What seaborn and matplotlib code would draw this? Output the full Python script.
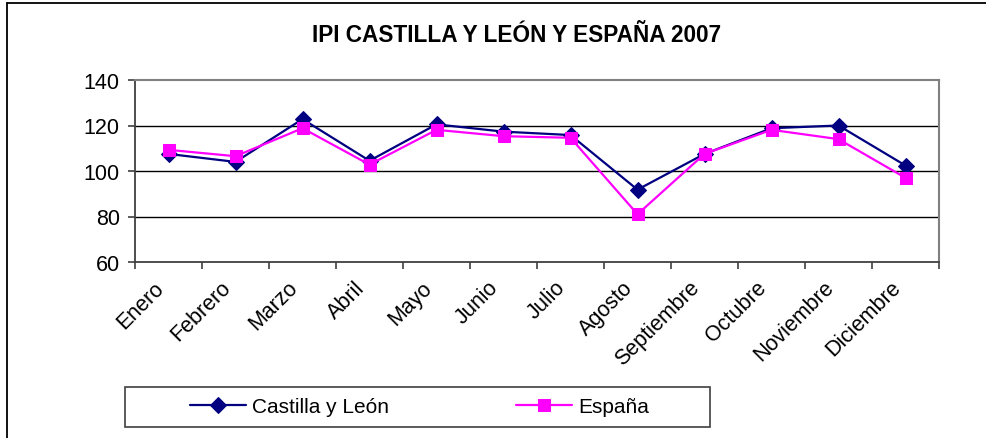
import matplotlib
matplotlib.use("Agg")
import matplotlib.pyplot as plt
import matplotlib.transforms as mtransforms
import seaborn as sns
import pandas as pd
from matplotlib.ticker import FixedLocator
from matplotlib.patches import Rectangle
from matplotlib.lines import Line2D

meses = ["Enero", "Febrero", "Marzo", "Abril", "Mayo", "Junio", "Julio",
         "Agosto", "Septiembre", "Octubre", "Noviembre", "Diciembre"]
castilla_leon = [107.5, 104.0, 122.8, 104.5, 120.5, 117.3, 115.8, 91.8, 107.5, 118.8, 120.0, 102.4]
espana = [109.3, 106.5, 118.8, 102.8, 118.1, 115.3, 114.6, 81.0, 107.5, 118.1, 114.0, 97.0]
series = ["Castilla y León", "España"]
titulo = "IPI CASTILLA Y LEÓN Y ESPAÑA 2007"
yticks = [60, 80, 100, 120, 140]

df = pd.DataFrame({
    "mes": meses * 2,
    "valor": castilla_leon + espana,
    "serie": [series[0]] * len(meses) + [series[1]] * len(meses),
})

sns.set_theme(style="white")
plt.rcParams["font.family"] = ["Liberation Sans", "DejaVu Sans"]

W, H = 986, 439
fig = plt.figure(figsize=(W / 100, H / 100), dpi=100)
fig.patch.set_facecolor("white")
ax = fig.add_axes([135 / W, 1 - 263 / H, (939 - 135) / W, (263 - 81) / H])

colors = {series[0]: "#000080", series[1]: "#FF00FF"}
markers = {series[0]: "D", series[1]: "s"}
sizes = {series[0]: 8, series[1]: 8.5}
for s in series:
    sub = df[df["serie"] == s]
    sns.lineplot(data=sub, x="mes", y="valor", ax=ax, color=colors[s],
                 marker=markers[s], markersize=sizes[s], markeredgecolor=colors[s],
                 linewidth=1.6, label=s, sort=False, legend=True)

ax.set_xlim(-0.5, len(meses) - 0.5)
ax.set_ylim(60, 140)
ax.set_yticks(yticks)
ax.set_xlabel("")
ax.set_ylabel("")
ax.set_title("")

for y in yticks[1:-1]:
    ax.axhline(y, color="black", linewidth=1.0, zorder=0.5)

for side in ["top", "right"]:
    ax.spines[side].set_color("#808080")
    ax.spines[side].set_linewidth(1.5)
ax.spines["left"].set_color("#404040")
ax.spines["left"].set_linewidth(1.3)
ax.spines["bottom"].set_color("#404040")
ax.spines["bottom"].set_linewidth(1.3)

ax.set_xticks(range(len(meses)))
ax.set_xticklabels(meses, rotation=45, ha="right", va="center", rotation_mode="anchor")
ax.xaxis.set_minor_locator(FixedLocator([i - 0.5 for i in range(len(meses) + 1)]))
ax.tick_params(axis="x", which="major", length=0, pad=16, labelsize=15.5, colors="black")
ax.tick_params(axis="x", which="minor", length=5, width=1.2, color="#404040", bottom=True)
ax.tick_params(axis="y", which="major", length=5, width=1.2, color="#404040", pad=6,
               labelsize=15.5, left=True, labelcolor="black")
offset = mtransforms.ScaledTranslation(-8 / 100, 0, fig.dpi_scale_trans)
for lbl in ax.get_xticklabels():
    lbl.set_color("black")
    lbl.set_transform(lbl.get_transform() + offset)

handles, labels = ax.get_legend_handles_labels()
if ax.get_legend() is not None:
    ax.get_legend().remove()

fig.text(517 / W, 1 - 36 / H, titulo, ha="center", va="center",
         fontsize=16.3, fontweight="bold", color="black")

# outer chart border (top and left visible)
fig.add_artist(Line2D([7 / W, 7 / W], [0, 1 - 4 / H], transform=fig.transFigure,
                      color="black", linewidth=1.3))
fig.add_artist(Line2D([7 / W, 1], [1 - 4 / H, 1 - 4 / H], transform=fig.transFigure,
                      color="black", linewidth=1.3))

# legend box
fig.add_artist(Rectangle((125 / W, 1 - 428 / H), (710 - 125) / W, 40 / H,
                         transform=fig.transFigure, facecolor="white",
                         edgecolor="#404040", linewidth=1.2))
ymid = 1 - 408 / H
for h, l, x0 in zip(handles, labels, [190, 516]):
    leg = fig.legend([h], [l], loc="center left", bbox_to_anchor=(x0 / W, ymid),
                     frameon=False, fontsize=15, handlelength=2.7, handletextpad=0.3,
                     borderpad=0, borderaxespad=0)
    for t in leg.get_texts():
        t.set_color("black")

fig.savefig("out.png", dpi=100, facecolor="white")
